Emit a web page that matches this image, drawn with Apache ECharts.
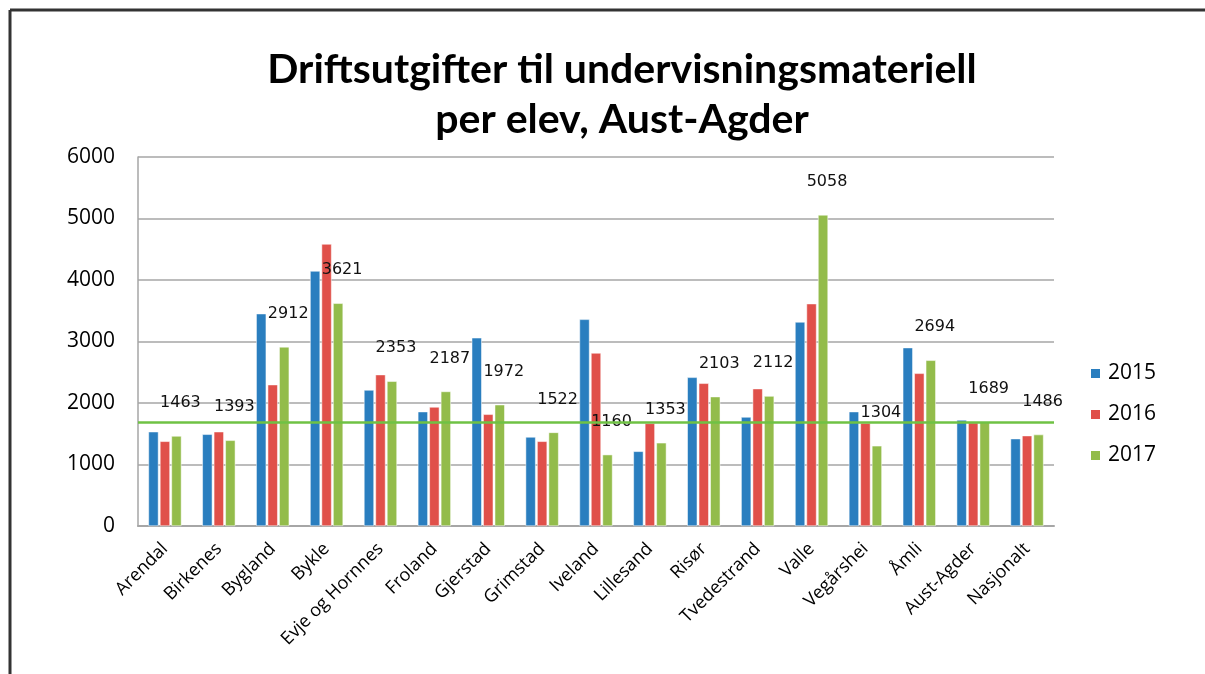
<!DOCTYPE html>
<html>
<head>
<meta charset="utf-8">
<script src="https://cdn.jsdelivr.net/npm/echarts@6/dist/echarts.min.js"></script>
<style>
  html, body { margin: 0; padding: 0; background: #fff; }
  #chart { width: 1205px; height: 674px; }
</style>
</head>
<body>
<div id="chart"></div>
<script>
const categories = ['Arendal', 'Birkenes', 'Bygland', 'Bykle', 'Evje og Hornnes', 'Froland', 'Gjerstad',
  'Grimstad', 'Iveland', 'Lillesand', 'Risør', 'Tvedestrand', 'Valle', 'Vegårshei', 'Åmli',
  'Aust-Agder', 'Nasjonalt']
const years = ['2015', '2016', '2017']
const values2015 = [1533, 1491, 3452, 4146, 2211, 1859, 3060, 1447, 3360, 1214, 2417, 1772, 3317, 1859, 2900, 1724, 1420]
const values2016 = [1377, 1533, 2298, 4585, 2461, 1935, 1816, 1377, 2813, 1669, 2320, 2233, 3615, 1675, 2482, 1680, 1469]
const values2017 = [1463, 1393, 2912, 3621, 2353, 2187, 1972, 1522, 1160, 1353, 2103, 2112, 5058, 1304, 2694, 1689, 1486]
const yTicks = [0, 1000, 2000, 3000, 4000, 5000, 6000]
const referenceLine = 1689

const colors = ['#2a7ebf', '#e0504a', '#93bc4b']

const myChart = echarts.init(document.getElementById('chart'))

const makeSeries = (name, data, i) => ({
  name: name,
  type: 'bar',
  data: data,
  barWidth: 10,
  barGap: '15%',
  itemStyle: { color: colors[i], borderColor: '#fff', borderWidth: 0.5 },
  label: i === 2 ? {
    show: true,
    position: 'top',
    offset: [4, -20],
    fontFamily: 'DejaVu Sans',
    fontSize: 16,
    color: '#111'
  } : { show: false },
  markLine: i === 2 ? {
    symbol: 'none',
    silent: true,
    label: { show: false },
    lineStyle: { color: '#6fc244', width: 2.5, type: 'solid' },
    data: [{ yAxis: referenceLine }]
  } : undefined,
  z: 2
})

myChart.setOption({
  animation: false,
  title: {
    text: 'Driftsutgifter til undervisningsmateriell\nper elev, Aust-Agder',
    left: 617,
    textAlign: 'center',
    top: 40,
    textStyle: {
      fontFamily: 'Lato',
      fontWeight: 'bold',
      fontSize: 41,
      lineHeight: 50,
      color: '#000'
    }
  },
  legend: {
    data: years,
    orient: 'vertical',
    left: 1084,
    top: 358,
    itemWidth: 11,
    itemHeight: 11,
    itemGap: 20,
    icon: 'rect',
    textStyle: { fontFamily: 'Open Sans', fontSize: 21, color: '#000', padding: [0, 0, 0, 2] }
  },
  grid: { left: 138, right: 151, top: 157, bottom: 148 },
  xAxis: {
    type: 'category',
    data: categories,
    axisLine: { lineStyle: { color: '#a6a6a6', width: 2 } },
    axisTick: { show: false },
    axisLabel: {
      rotate: 45,
      interval: 0,
      margin: 20,
      fontFamily: 'Open Sans',
      fontSize: 18,
      color: '#000'
    }
  },
  yAxis: {
    type: 'value',
    min: yTicks[0],
    max: yTicks[yTicks.length - 1],
    interval: 1000,
    axisLine: { show: true, lineStyle: { color: '#a6a6a6', width: 1.5 } },
    axisTick: { show: false },
    splitLine: { lineStyle: { color: '#a6a6a6', width: 1.5 } },
    axisLabel: {
      margin: 23,
      fontFamily: 'Open Sans',
      fontSize: 21,
      color: '#000',
      formatter: v => String(v)
    }
  },
  graphic: [
    { type: 'line', shape: { x1: 10, y1: 10, x2: 1205, y2: 10 }, style: { stroke: '#333', lineWidth: 3 } },
    { type: 'line', shape: { x1: 10, y1: 10, x2: 10, y2: 674 }, style: { stroke: '#333', lineWidth: 3 } }
  ],
  series: [
    makeSeries(years[0], values2015, 0),
    makeSeries(years[1], values2016, 1),
    makeSeries(years[2], values2017, 2)
  ]
})
</script>
</body>
</html>
